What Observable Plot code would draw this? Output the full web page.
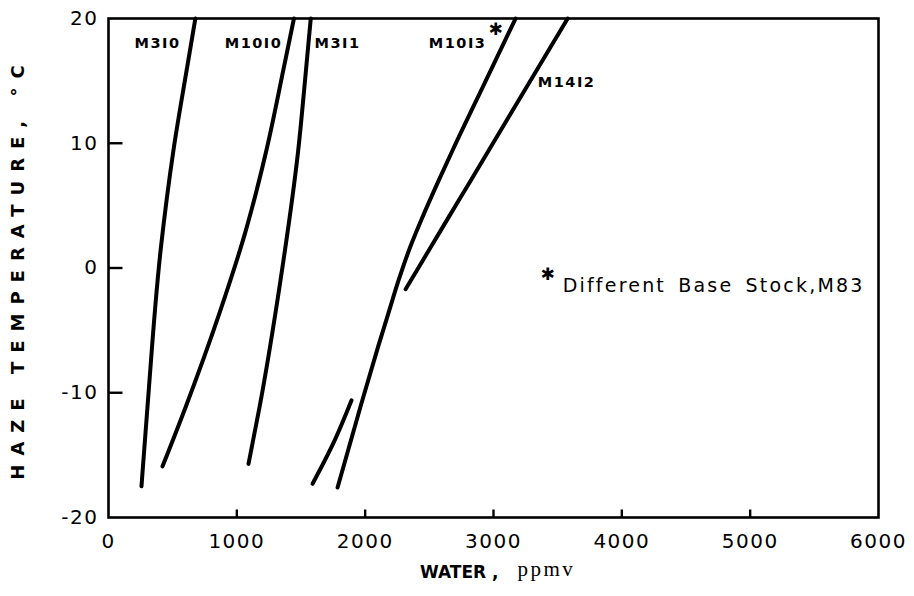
<!DOCTYPE html>
<html><head><meta charset="utf-8">
<script src="https://cdn.jsdelivr.net/npm/d3@7"></script>
<script src="https://cdn.jsdelivr.net/npm/@observablehq/plot@0.6"></script>
<style>body{margin:0;background:#fff}</style>
</head><body><div id="chart"></div>
<script>
// Curve data: water (ppmv) vs haze temperature (°C)
const waterM3I0 = [257, 304, 408, 507, 613, 677];
const tempM3I0  = [-17.5, -11.1, 1.6, 9.5, 16.1, 20];
const waterM10I0 = [421, 603, 862, 1067, 1232, 1367, 1445];
const tempM10I0  = [-15.9, -11.1, -3.7, 2.9, 9.5, 16.1, 20];
const waterM3I1 = [1091, 1178, 1340, 1479, 1532, 1576];
const tempM3I1  = [-15.7, -11.1, -1.0, 9.5, 15.1, 20];
const waterM10I3 = [1785, 1964, 2101, 2179, 2260, 2348, 2452, 2568, 2684, 2930, 3172];
const tempM10I3  = [-17.6, -11.1, -6.3, -3.7, -1.0, 1.6, 4.2, 6.9, 9.5, 14.8, 20];
const waterM14I2 = [2315, 2507, 2658, 2816, 2967, 3200, 3578];
const tempM14I2  = [-1.7, 1.6, 4.2, 6.9, 9.5, 13.5, 20];
const waterShort = [1590, 1754, 1894];
const tempShort  = [-17.3, -14.0, -10.6];

const seriesNames = ["M3I0", "M10I0", "M3I1", "M10I3", "M14I2", "short"];
const seriesWater = [waterM3I0, waterM10I0, waterM3I1, waterM10I3, waterM14I2, waterShort];
const seriesTemp  = [tempM3I0, tempM10I0, tempM3I1, tempM10I3, tempM14I2, tempShort];

// Curve labels
const labelText  = ["M3I0", "M10I0", "M3I1", "M10I3", "M14I2"];
const labelWater = [382, 1130, 1785, 2720, 3570];
const labelTemp  = [18.0, 18.0, 18.0, 18.0, 14.9];

// Asterisk marks and note
const starWater = [3016, 3422];
const starTemp  = [19.1, -0.5];
const noteText  = ["Different Base Stock,M83"];
const noteWater = [3539];
const noteTemp  = [-1.4];

// Axes
const xDomain = [0, 6000];
const yDomain = [-20, 20];
const xTickValues = [0, 1000, 2000, 3000, 4000, 5000, 6000];
const xTickMarks  = [1000, 2000, 3000, 4000, 5000];
const yTickValues = [-20, -10, 0, 10, 20];
const yTickMarks  = [-10, 0, 10];
const xLabelMain = "WATER ,";
const xLabelUnit = "ppmv";
const yLabel = "HAZE TEMPERATURE, °C";

const rows = [];
seriesNames.forEach((name, i) => {
  seriesWater[i].forEach((w, j) => rows.push({series: name, water: w, temp: seriesTemp[i][j]}));
});
const labels = labelText.map((t, i) => ({t, water: labelWater[i], temp: labelTemp[i]}));
const stars = starWater.map((w, i) => ({water: w, temp: starTemp[i]}));
const notes = noteText.map((t, i) => ({t, water: noteWater[i], temp: noteTemp[i]}));

const fmt = d => d < 0 ? "-" + Math.abs(d) : String(d);

const W = 914, H = 596, mL = 108, mR = 36, mT = 18, mB = 79;
const frameW = W - mL - mR, frameH = H - mT - mB;
// inward tick lengths (pixels) converted to data units along the perpendicular scale
const xTickLen = 8 * (yDomain[1] - yDomain[0]) / frameH;
const yTickLen = 14 * (xDomain[1] - xDomain[0]) / frameW;
const tickRows = [];
xTickMarks.forEach(v => {
  tickRows.push({k: "x" + v, water: v, temp: yDomain[0]});
  tickRows.push({k: "x" + v, water: v, temp: yDomain[0] + xTickLen});
});
yTickMarks.forEach(v => {
  tickRows.push({k: "y" + v, water: xDomain[0], temp: v});
  tickRows.push({k: "y" + v, water: xDomain[0] + yTickLen, temp: v});
});

const chart = Plot.plot({
  width: W,
  height: H,
  marginLeft: mL,
  marginRight: mR,
  marginTop: mT,
  marginBottom: mB,
  style: {fontFamily: "DejaVu Sans", color: "#000"},
  x: {domain: xDomain},
  y: {domain: yDomain},
  marks: [
    Plot.frame({stroke: "#000", strokeWidth: 2.6}),
    // inward tick marks
    Plot.line(tickRows, {x: "water", y: "temp", z: "k", stroke: "#000", strokeWidth: 2.4, strokeLinecap: "butt"}),
    // tick labels
    Plot.axisX({ticks: xTickValues, tickSize: 0, tickPadding: 16, tickFormat: fmt, fontSize: 20, label: null}),
    Plot.axisY({ticks: yTickValues, tickSize: 0, tickPadding: 10, tickFormat: fmt, fontSize: 20, label: null}),
    // curves
    Plot.line(rows, {x: "water", y: "temp", z: "series", curve: "monotone-y", stroke: "#000",
      strokeWidth: 4, strokeLinecap: "round", strokeLinejoin: "round"}),
    // labels
    Plot.text(labels, {x: "water", y: "temp", text: "t", fontSize: 14.5, fontWeight: "bold"}),
    Plot.text(stars, {x: "water", y: "temp", text: () => "✱", fontSize: 17, fontFamily: "DejaVu Sans"}),
    Plot.text(notes, {x: "water", y: "temp", text: "t", textAnchor: "start", fontSize: 19}),
    // axis titles
    Plot.text([yLabel], {frameAnchor: "left", text: d => d, rotate: -90, dx: -90, textAnchor: "middle",
      fontSize: 18, fontWeight: "bold"}),
    Plot.text([xLabelMain], {frameAnchor: "bottom", text: d => d, textAnchor: "end", dx: 5, dy: 60,
      fontSize: 17, fontWeight: "bold"}),
    Plot.text([xLabelUnit], {frameAnchor: "bottom", text: d => d, textAnchor: "start", dx: 24, dy: 58,
      fontSize: 21, fontFamily: "Liberation Serif"})
  ]
});
// letter spacing adjustments, chosen by text content
d3.select(chart).selectAll("text").each(function() {
  const t = this.textContent;
  let ls = null, ws = null;
  if (/^-?\d+$/.test(t)) ls = "1.5px";
  else if (labelText.includes(t)) ls = "1.5px";
  else if (noteText.includes(t)) { ls = "2.2px"; ws = "4px"; }
  else if (t === yLabel) ls = "9px";
  else if (t === xLabelUnit) ls = "2.5px";
  if (ls) this.setAttribute("letter-spacing", ls);
  if (ws) this.setAttribute("word-spacing", ws);
});
document.getElementById("chart").appendChild(chart);
</script>
</body></html>
